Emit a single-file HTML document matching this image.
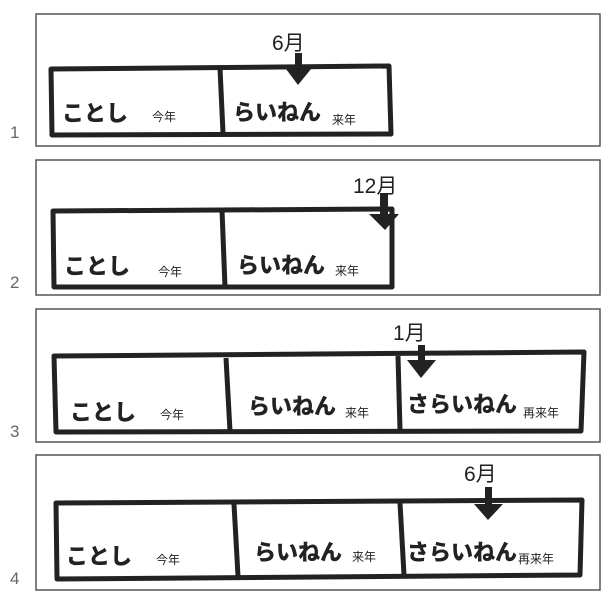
<!DOCTYPE html>
<html><head><meta charset="utf-8"><style>
html,body{margin:0;padding:0;background:#fff;}
svg{display:block}
.big{font-family:"Liberation Sans","Noto Sans CJK JP",sans-serif;font-weight:900;font-size:22px;fill:#222}
.sm{font-family:"Liberation Sans","Noto Sans CJK JP",sans-serif;font-size:12px;fill:#222}
.mo{font-family:"Liberation Sans","Noto Sans CJK JP",sans-serif;font-size:21px;fill:#222}
.num{font-family:"Liberation Sans",sans-serif;font-size:17px;fill:#666}
</style></head><body>
<svg width="604" height="597" viewBox="0 0 604 597">
<g fill="none" stroke="#555" stroke-width="1.5">
<rect x="36" y="14" width="564" height="132"/>
<rect x="36" y="160" width="564" height="135"/>
<rect x="36" y="309" width="564" height="133"/>
<rect x="36" y="455" width="564" height="135"/>
</g>
<g class="num"><text x="10" y="138">1</text><text x="10" y="288">2</text><text x="10" y="437">3</text><text x="10" y="584">4</text></g>
<g fill="none" stroke="#222" stroke-width="5" stroke-linejoin="round">
<path d="M51 69 L389 66 L391 134 L52 135 Z"/><path d="M220 68 L223 133"/>
<path d="M53 211 L392 209 L392 287 L54 287 Z"/><path d="M222 210 L225 287"/>
<path d="M54 356 L584 352 L581 431 L56 432 Z"/><path d="M226 358 L230 431"/><path d="M398 356 L400 430"/>
<path d="M56 503 L582 500 L580 575 L57 579 Z"/><path d="M234 504 L238 576"/><path d="M400 503 L404 575"/>
</g>
<g fill="#222">
<rect x="295" y="53" width="7" height="16"/><polygon points="286,69 311,69 298,85"/>
<rect x="380" y="193" width="8" height="22"/><polygon points="369,214 399,214 385,230"/>
<rect x="418" y="345" width="7" height="16"/><polygon points="407,360 436,360 421,378"/>
<rect x="485" y="487" width="7" height="18"/><polygon points="474,504 503,504 488,520"/>
</g>
<g class="mo">
<text x="272" y="50">6月</text>
<text x="353" y="193">12月</text>
<text x="393" y="340">1月</text>
<text x="464" y="481">6月</text>
</g>
<g class="big">
<text x="62" y="121">ことし</text><text x="233" y="120">らいねん</text>
<text x="64" y="274">ことし</text><text x="237" y="273">らいねん</text>
<text x="70" y="420">ことし</text><text x="248" y="414">らいねん</text><text x="407" y="412">さらいねん</text>
<text x="66" y="564">ことし</text><text x="254" y="560">らいねん</text><text x="407" y="560">さらいねん</text>
</g>
<g class="sm">
<text x="152" y="121">今年</text><text x="332" y="124">来年</text>
<text x="158" y="276">今年</text><text x="335" y="275">来年</text>
<text x="160" y="419">今年</text><text x="345" y="417">来年</text><text x="523" y="417">再来年</text>
<text x="156" y="564">今年</text><text x="352" y="561">来年</text><text x="518" y="563">再来年</text>
</g>
</svg>
</body></html>
